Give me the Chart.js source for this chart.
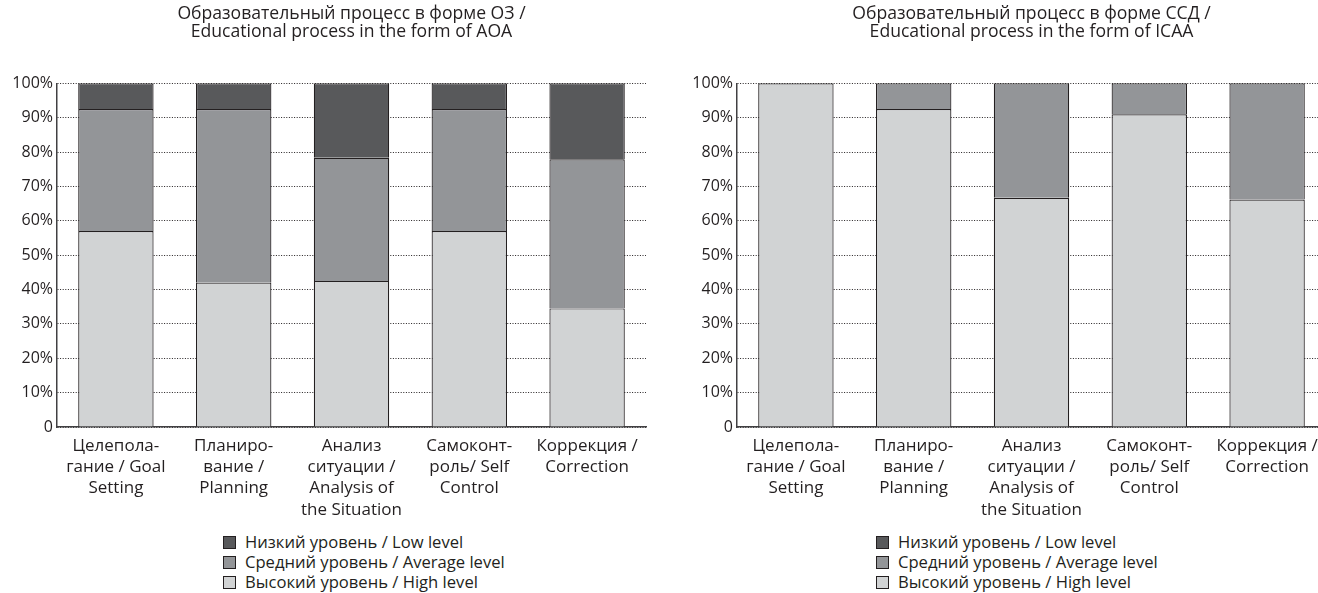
<!DOCTYPE html>
<html>
<head>
<meta charset="utf-8">
<style>
  body { margin: 0; width: 1318px; height: 593px; overflow: hidden; background: #fff; position: relative;
         font-family: "Open Sans", sans-serif; color: #231f20; }
  .panel { position: absolute; top: 0; width: 680px; height: 593px; }
  .panel canvas { position: absolute; left: 0; top: 0; }
  .legend { position: absolute; top: 532px; font-size: 16.6px; line-height: 20px; }
  .legend div { display: flex; align-items: center; white-space: nowrap; }
  .legend .box { width: 11px; height: 11px; border: 1px solid #231f20; margin-right: 9px; }
</style>
</head>
<body>
<div class="panel" style="left:0"><canvas id="left" width="680" height="525"></canvas><div class="legend" id="legendLeft" style="left:223px"></div></div>
<div class="panel" style="left:680px"><canvas id="right" width="680" height="525"></canvas><div class="legend" id="legendRight" style="left:196px"></div></div>

<script src="https://cdn.jsdelivr.net/npm/chart.js@4.4.1/dist/chart.umd.min.js"></script>
<script>
  const categories = [
    ["Целепола-", "гание / Goal", "Setting"],
    ["Планиро-", "вание /", "Planning"],
    ["Анализ", "ситуации /", "Analysis of", "the Situation"],
    ["Самоконт-", "роль/ Self", "Control"],
    ["Коррекция /", "Correction"]
  ]
  const yTickLabels = ["0", "10%", "20%", "30%", "40%", "50%", "60%", "70%", "80%", "90%", "100%"]

  const seriesNames = ["Высокий уровень / High level", "Средний уровень / Average level", "Низкий уровень / Low level"]
  const seriesColors = ["#d1d3d4", "#939598", "#58595b"]

  // ОЗ / AOA
  const titleLeft = ["Образовательный процесс в форме ОЗ /", "Educational process in the form of AOA"]
  const highLeft = [57, 42, 42.5, 57, 34.5]
  const averageLeft = [35.5, 50.5, 35.8, 35.5, 43.4]
  const lowLeft = [7.5, 7.5, 21.7, 7.5, 22.1]

  // ССД / ICAA
  const titleRight = ["Образовательный процесс в форме ССД /", "Educational process in the form of ICAA"]
  const highRight = [100, 92.5, 66.7, 91, 66.2]
  const averageRight = [0, 7.5, 33.3, 9, 33.8]
  const lowRight = [0, 0, 0, 0, 0]

  const textColor = "#231f20"
  const family = "'Open Sans', sans-serif"

  function makeChart(canvasId, legendId, title, high, average, low) {
    const values = [high, average, low]
    const datasets = values.map((data, i) => ({
      label: seriesNames[i],
      data: data,
      backgroundColor: seriesColors[i],
      borderColor: textColor,
      borderWidth: 1.2,
      inflateAmount: 0,
      barPercentage: 0.64,
      categoryPercentage: 1
    }))

    const ctx = document.getElementById(canvasId).getContext("2d")
    const chart = new Chart(ctx, {
      type: "bar",
      data: { labels: categories, datasets: datasets },
      options: {
        responsive: false,
        animation: false,
        layout: { padding: 0 },
        plugins: {
          legend: { display: false },
          tooltip: { enabled: false },
          title: {
            display: true,
            fullSize: false,
            text: title,
            color: textColor,
            font: { family: family, size: 17.6, weight: "normal", lineHeight: 1.03 },
            padding: { top: 5, bottom: 42 }
          }
        },
        scales: {
          x: {
            stacked: true,
            grid: { display: false },
            border: { display: true, color: "#414042", width: 1.5 },
            ticks: { color: textColor, font: { family: family, size: 17, lineHeight: 1.26 }, padding: 0, maxRotation: 0, autoSkip: false },
            afterFit: s => { s.height = 98 }
          },
          y: {
            stacked: true,
            min: 0,
            max: 100,
            grid: { color: "#231f20", lineWidth: 1, drawTicks: false },
            border: { display: true, color: "#414042", width: 1.5, dash: [1, 1.6] },
            ticks: {
              stepSize: 10,
              padding: 4,
              color: textColor,
              font: { family: family, size: 16 },
              callback: (v, i) => yTickLabels[i]
            },
            afterFit: s => { s.width = 57 }
          },
          pad: {
            position: "right",
            display: true,
            grid: { display: false },
            border: { display: false },
            ticks: { display: false },
            afterFit: s => { s.width = 34 }
          }
        }
      }
    })

    // html legend, top item first like in the picture
    const items = chart.options.plugins.legend.labels.generateLabels(chart).reverse()
    const legend = document.getElementById(legendId)
    items.forEach(item => {
      const row = document.createElement("div")
      const box = document.createElement("span")
      box.className = "box"
      box.style.background = item.fillStyle
      row.appendChild(box)
      row.appendChild(document.createTextNode(item.text))
      legend.appendChild(row)
    })
    return chart
  }

  makeChart("left", "legendLeft", titleLeft, highLeft, averageLeft, lowLeft)
  makeChart("right", "legendRight", titleRight, highRight, averageRight, lowRight)
</script>
</body>
</html>
